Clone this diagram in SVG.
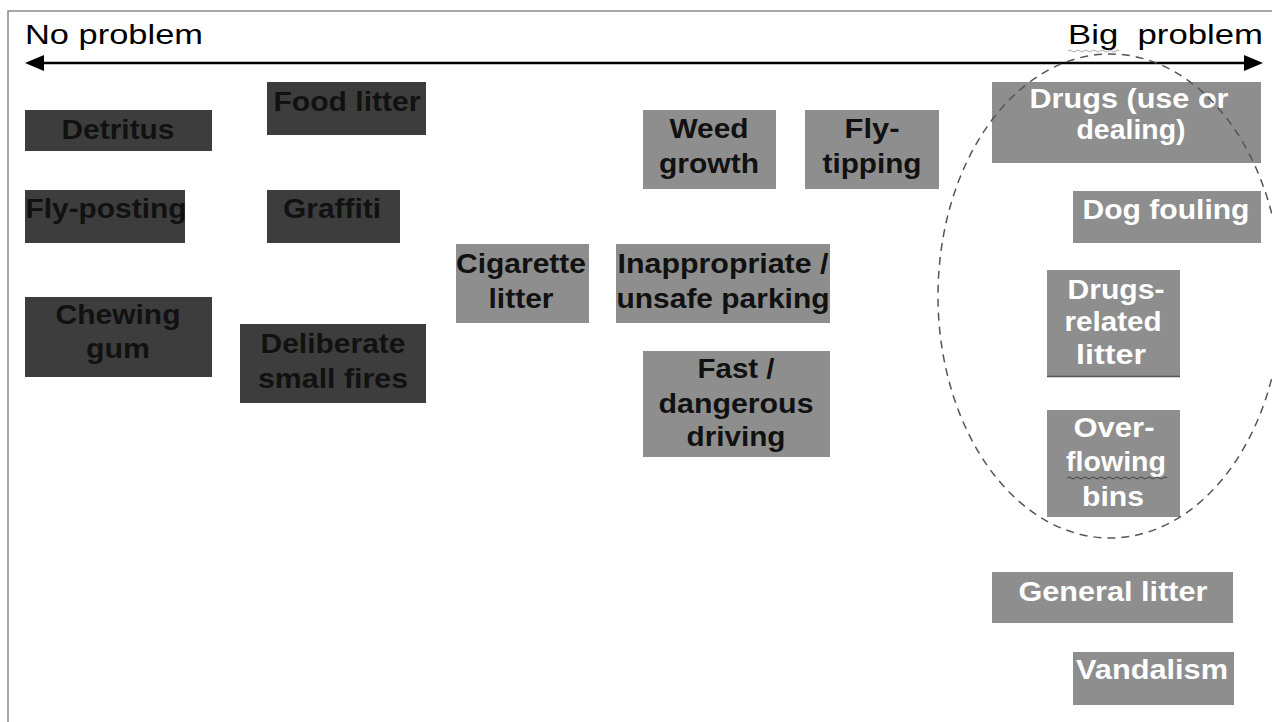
<svg xmlns="http://www.w3.org/2000/svg" width="1272" height="722" viewBox="0 0 1272 722">
<defs>
<style>
.dark{fill:#3d3d3d}
.light{fill:#8e8e8e}
.t{font-family:"Liberation Sans",Arial,sans-serif;font-weight:bold;font-size:28px;text-anchor:middle}
.blk{fill:#111}
.wht{fill:#ffffff}
.hdr{font-family:"Liberation Sans",Arial,sans-serif;font-size:28px;fill:#000}
</style>
</defs>
<rect width="1272" height="722" fill="#ffffff"/>
<path d="M8,722 V11 H1272" fill="none" stroke="#8a8a8a" stroke-width="1.5"/>
<text class="hdr" x="25" y="44" textLength="178" lengthAdjust="spacingAndGlyphs">No problem</text>
<text class="hdr" x="1068" y="44" textLength="195" lengthAdjust="spacingAndGlyphs" xml:space="preserve">Big  problem</text>
<path d="M1068,51 q2,-2 4,0 t4,0 t4,0 t4,0 t4,0 t4,0 t4,0 t4,0 t4,0 t4,0 t4,0 t4,0 t3,0" fill="none" stroke="#aaa" stroke-width="1"/>
<g id="connectors">
<line x1="42" y1="63" x2="1245" y2="63" stroke="#000" stroke-width="2.5"/>
<path d="M25,63 L44,55 L44,71 Z" fill="#000"/>
<path d="M1263,63 L1244,55 L1244,71 Z" fill="#000"/>
</g>
<g id="n-detritus"><rect class="dark" x="25" y="110" width="187" height="41"/><text class="t blk" x="118" y="139" textLength="113" lengthAdjust="spacingAndGlyphs">Detritus</text></g>
<g id="n-food"><rect class="dark" x="267" y="82" width="159" height="53"/><text class="t blk" x="347" y="111" textLength="147" lengthAdjust="spacingAndGlyphs">Food litter</text></g>
<g id="n-flyposting"><rect class="dark" x="25" y="190" width="160" height="53"/><text class="t blk" x="106" y="218" textLength="161" lengthAdjust="spacingAndGlyphs">Fly-posting</text></g>
<g id="n-graffiti"><rect class="dark" x="267" y="190" width="133" height="53"/><text class="t blk" x="332" y="218" textLength="98" lengthAdjust="spacingAndGlyphs">Graffiti</text></g>
<g id="n-gum"><rect class="dark" x="25" y="297" width="187" height="80"/><text class="t blk" x="118" y="324" textLength="125" lengthAdjust="spacingAndGlyphs">Chewing</text><text class="t blk" x="118" y="358" textLength="64" lengthAdjust="spacingAndGlyphs">gum</text></g>
<g id="n-fires"><rect class="dark" x="240" y="324" width="186" height="79"/><text class="t blk" x="333" y="353" textLength="145" lengthAdjust="spacingAndGlyphs">Deliberate</text><text class="t blk" x="333" y="388" textLength="150" lengthAdjust="spacingAndGlyphs">small fires</text></g>
<g id="n-weed"><rect class="light" x="643" y="110" width="133" height="79"/><text class="t blk" x="709" y="138" textLength="79" lengthAdjust="spacingAndGlyphs">Weed</text><text class="t blk" x="709" y="173" textLength="100" lengthAdjust="spacingAndGlyphs">growth</text></g>
<g id="n-flytipping"><rect class="light" x="805" y="110" width="134" height="79"/><text class="t blk" x="872" y="138" textLength="55" lengthAdjust="spacingAndGlyphs">Fly-</text><text class="t blk" x="872" y="173" textLength="99" lengthAdjust="spacingAndGlyphs">tipping</text></g>
<g id="n-cigarette"><rect class="light" x="456" y="244" width="133" height="79"/><text class="t blk" x="521" y="273" textLength="130" lengthAdjust="spacingAndGlyphs">Cigarette</text><text class="t blk" x="521" y="308" textLength="65" lengthAdjust="spacingAndGlyphs">litter</text></g>
<g id="n-parking"><rect class="light" x="616" y="244" width="214" height="79"/><text class="t blk" x="723" y="273" textLength="211" lengthAdjust="spacingAndGlyphs">Inappropriate /</text><text class="t blk" x="723" y="308" textLength="213" lengthAdjust="spacingAndGlyphs">unsafe parking</text></g>
<g id="n-driving"><rect class="light" x="643" y="351" width="187" height="106"/><text class="t blk" x="736" y="378" textLength="77" lengthAdjust="spacingAndGlyphs">Fast /</text><text class="t blk" x="736" y="413" textLength="155" lengthAdjust="spacingAndGlyphs">dangerous</text><text class="t blk" x="736" y="446" textLength="99" lengthAdjust="spacingAndGlyphs">driving</text></g>
<g id="n-drugs"><rect class="light" x="992" y="82" width="269" height="81"/><text class="t wht" x="1129" y="108" textLength="199" lengthAdjust="spacingAndGlyphs">Drugs (use or</text><text class="t wht" x="1131" y="139" textLength="109" lengthAdjust="spacingAndGlyphs">dealing)</text></g>
<g id="n-dog"><rect class="light" x="1073" y="191" width="188" height="52"/><text class="t wht" x="1166" y="219" textLength="167" lengthAdjust="spacingAndGlyphs">Dog fouling</text></g>
<g id="n-drugslitter"><rect class="light" x="1047" y="270" width="133" height="107"/><line x1="1047" y1="376.5" x2="1180" y2="376.5" stroke="#555" stroke-width="1.5"/><text class="t wht" x="1116" y="299" textLength="97" lengthAdjust="spacingAndGlyphs">Drugs-</text><text class="t wht" x="1113" y="331" textLength="97" lengthAdjust="spacingAndGlyphs">related</text><text class="t wht" x="1111" y="364" textLength="70" lengthAdjust="spacingAndGlyphs">litter</text></g>
<g id="n-bins"><rect class="light" x="1047" y="410" width="133" height="107"/><text class="t wht" x="1114" y="437" textLength="81" lengthAdjust="spacingAndGlyphs">Over-</text><text class="t wht" x="1116" y="471" textLength="100" lengthAdjust="spacingAndGlyphs">flowing</text><text class="t wht" x="1113" y="506" textLength="62" lengthAdjust="spacingAndGlyphs">bins</text><path d="M1067,478 q2,-2 4,0 t4,0 t4,0 t4,0 t4,0 t4,0 t4,0 t4,0 t4,0 t4,0 t4,0 t4,0 t4,0 t4,0 t4,0 t4,0 t4,0 t4,0 t4,0 t4,0 t4,0 t4,0 t4,0 t4,0 t4,0" fill="none" stroke="#444" stroke-width="1"/></g>
<g id="n-general"><rect class="light" x="992" y="572" width="241" height="51"/><text class="t wht" x="1113" y="601" textLength="189" lengthAdjust="spacingAndGlyphs">General litter</text></g>
<g id="n-vandalism"><rect class="light" x="1073" y="652" width="161" height="53"/><text class="t wht" x="1152" y="679" textLength="152" lengthAdjust="spacingAndGlyphs">Vandalism</text></g>
<g id="highlight">
<ellipse cx="1110" cy="296" rx="172" ry="242" fill="none" stroke="#555" stroke-width="1.5" stroke-dasharray="8 6"/>
</g>
</svg>
